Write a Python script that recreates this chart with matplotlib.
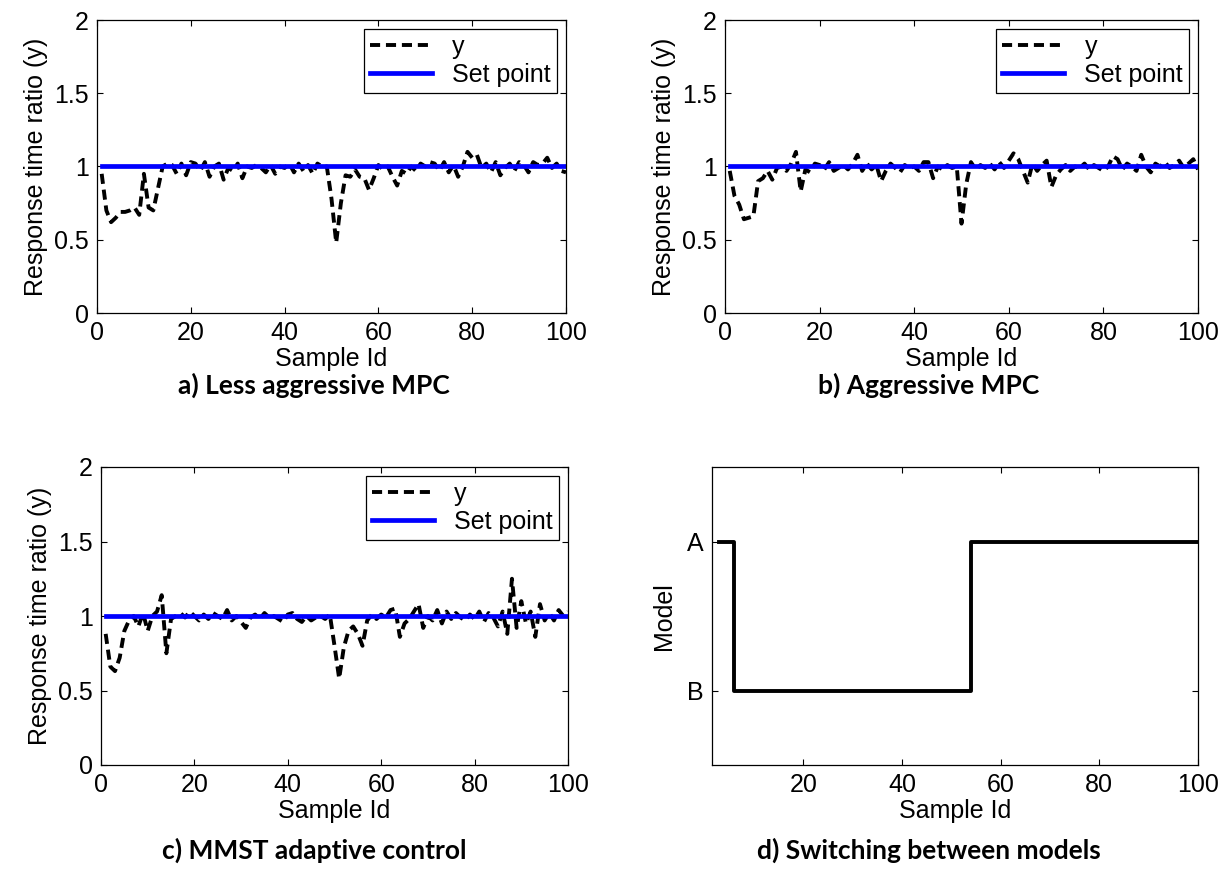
import matplotlib
matplotlib.use("Agg")
import matplotlib.pyplot as plt
import numpy as np

plt.rcParams["font.family"] = ["Liberation Sans", "DejaVu Sans"]

SAMPLE_ID = np.arange(1, 101)
SET_POINT = 1.0

# response time ratio per sample id
Y_LESS_AGGRESSIVE = [
    0.95, 0.70, 0.62, 0.65, 0.69, 0.69, 0.70, 0.72, 0.67, 0.95,
    0.72, 0.70, 0.85, 1.00, 1.02, 1.01, 0.95, 1.02, 0.94, 1.03,
    1.02, 0.97, 1.03, 0.93, 1.00, 1.02, 0.91, 0.99, 0.97, 1.02,
    0.92, 1.00, 0.99, 1.01, 0.99, 0.96, 1.01, 0.95, 1.00, 0.99,
    1.02, 0.96, 1.02, 0.97, 1.01, 0.95, 1.02, 1.00, 1.00, 0.78,
    0.48, 0.75, 0.94, 0.93, 0.98, 0.93, 0.92, 0.84, 0.92, 1.01,
    0.98, 1.00, 0.93, 0.87, 0.97, 0.95, 1.00, 0.97, 1.02, 1.00,
    1.03, 1.02, 0.97, 1.03, 0.96, 1.01, 0.93, 1.00, 1.10, 1.06,
    1.08, 0.99, 1.02, 0.96, 1.03, 0.94, 0.99, 1.02, 0.97, 1.03,
    1.01, 0.96, 1.03, 1.01, 1.02, 1.06, 0.99, 1.02, 0.97, 0.96,
]
Y_AGGRESSIVE = [
    0.97, 0.80, 0.74, 0.64, 0.65, 0.66, 0.90, 0.92, 0.97, 0.91,
    0.99, 1.00, 0.97, 1.02, 1.10, 0.83, 0.98, 0.96, 1.02, 1.01,
    0.98, 1.03, 0.97, 0.99, 1.01, 0.98, 1.02, 1.08, 0.97, 1.02,
    0.98, 1.01, 0.90, 0.97, 1.02, 0.99, 0.96, 1.01, 0.99, 1.00,
    0.97, 1.03, 1.03, 0.92, 1.00, 0.98, 1.01, 0.99, 1.00, 0.61,
    0.88, 1.03, 0.98, 1.01, 0.99, 1.02, 0.98, 1.03, 0.99, 1.04,
    1.09, 1.05, 0.97, 0.89, 1.02, 0.97, 1.01, 1.04, 0.86, 0.94,
    0.98, 1.01, 0.97, 1.00, 0.99, 1.02, 0.98, 1.01, 0.99, 0.97,
    1.00, 1.07, 1.05, 0.98, 1.02, 1.00, 0.97, 1.08, 1.00, 0.96,
    1.02, 1.00, 1.03, 0.99, 1.01, 1.04, 0.99, 1.02, 1.05, 0.98,
]
Y_MMST = [
    0.88, 0.66, 0.63, 0.72, 0.90, 0.97, 1.00, 0.93, 1.02, 0.90,
    1.00, 1.03, 1.14, 0.75, 0.98, 1.00, 1.02, 0.99, 1.03, 1.00,
    0.97, 1.01, 0.98, 1.02, 1.00, 0.98, 1.04, 0.97, 1.00, 0.96,
    0.92, 0.99, 1.01, 0.98, 1.02, 0.99, 1.00, 0.98, 0.96, 1.01,
    1.02, 0.98, 0.96, 1.00, 0.97, 0.99, 1.00, 0.98, 1.01, 0.80,
    0.58, 0.79, 0.90, 0.93, 0.88, 0.80, 0.97, 1.01, 0.98, 1.01,
    0.99, 1.04, 1.05, 0.86, 0.95, 0.98, 1.03, 1.08, 0.92, 1.00,
    0.97, 1.04, 0.95, 1.03, 0.98, 1.02, 0.99, 0.97, 1.01, 0.98,
    1.03, 0.96, 1.02, 0.99, 0.93, 1.03, 0.88, 1.25, 0.92, 1.10,
    0.95, 1.03, 0.86, 1.08, 0.97, 1.02, 0.97, 1.04, 1.00, 1.03,
]

# model switching: sample id where each model becomes active
SWITCH_ID = [3, 6, 54, 100]
SWITCH_MODEL = ["A", "B", "A", "A"]
MODEL_LEVEL = {"A": 2, "B": 1}

CAPTIONS = [
    "a) Less aggressive MPC",
    "b) Aggressive MPC",
    "c) MMST adaptive control",
    "d) Switching between models",
]

W, H = 1230, 880
FS = 18


def px_axes(fig, left, top, right, bottom):
    return fig.add_axes([left / W, 1 - bottom / H, (right - left) / W, (bottom - top) / H])


def style_axes(ax):
    ax.tick_params(direction="in", length=4, width=0.8, top=True, right=True,
                   labelsize=FS, pad=6)
    for sp in ax.spines.values():
        sp.set_linewidth(0.9)


def response_panel(ax, y):
    ax.plot(SAMPLE_ID, y, color="black", linestyle=(0, (2.6, 1.5)),
            linewidth=2.8, label="y")
    ax.plot(SAMPLE_ID, np.full(len(SAMPLE_ID), SET_POINT), color="#0000ff",
            linewidth=3.4, label="Set point")
    ax.set_xlim(0, 100)
    ax.set_ylim(0, 2)
    ax.set_xticks([0, 20, 40, 60, 80, 100])
    ax.set_yticks([0, 0.5, 1, 1.5, 2])
    ax.set_yticklabels(["0", "0.5", "1", "1.5", "2"])
    ax.set_xlabel("Sample Id", fontsize=FS, labelpad=1)
    ax.set_ylabel("Response time ratio (y)", fontsize=FS, labelpad=4)
    style_axes(ax)
    leg = ax.legend(loc="upper right", fontsize=FS, handlelength=2.5,
                    handletextpad=0.8, borderpad=0.25, labelspacing=0.15,
                    borderaxespad=0.35, fancybox=False, framealpha=1)
    leg.get_frame().set_edgecolor("black")
    leg.get_frame().set_linewidth(0.9)


fig = plt.figure(figsize=(W / 100, H / 100), dpi=100)

ax_a = px_axes(fig, 97, 20, 566, 313)
response_panel(ax_a, Y_LESS_AGGRESSIVE)

ax_b = px_axes(fig, 725, 20, 1198, 313)
response_panel(ax_b, Y_AGGRESSIVE)

ax_c = px_axes(fig, 101, 467, 568, 765)
response_panel(ax_c, Y_MMST)

ax_d = px_axes(fig, 712, 467, 1198, 765)
levels = [MODEL_LEVEL[m] for m in SWITCH_MODEL]
ax_d.plot(SWITCH_ID, levels, drawstyle="steps-post", color="black", linewidth=2.8)
ax_d.set_xlim(1.5, 100)
ax_d.set_ylim(0.5, 2.5)
ax_d.set_xticks([20, 40, 60, 80, 100])
ax_d.set_yticks([MODEL_LEVEL["B"], MODEL_LEVEL["A"]])
ax_d.set_yticklabels(["B", "A"])
ax_d.set_xlabel("Sample Id", fontsize=FS, labelpad=1)
ax_d.set_ylabel("Model", fontsize=FS, labelpad=8)
style_axes(ax_d)

cap_style = dict(ha="center", va="center", fontsize=19, fontweight="bold",
                 family=["Lato", "DejaVu Sans"])
fig.text(314 / W, 1 - 385 / H, CAPTIONS[0], **cap_style)
fig.text(929 / W, 1 - 385 / H, CAPTIONS[1], **cap_style)
fig.text(314 / W, 1 - 850 / H, CAPTIONS[2], **cap_style)
fig.text(929 / W, 1 - 850 / H, CAPTIONS[3], **cap_style)

fig.savefig("out.png", dpi=100, facecolor="white")
